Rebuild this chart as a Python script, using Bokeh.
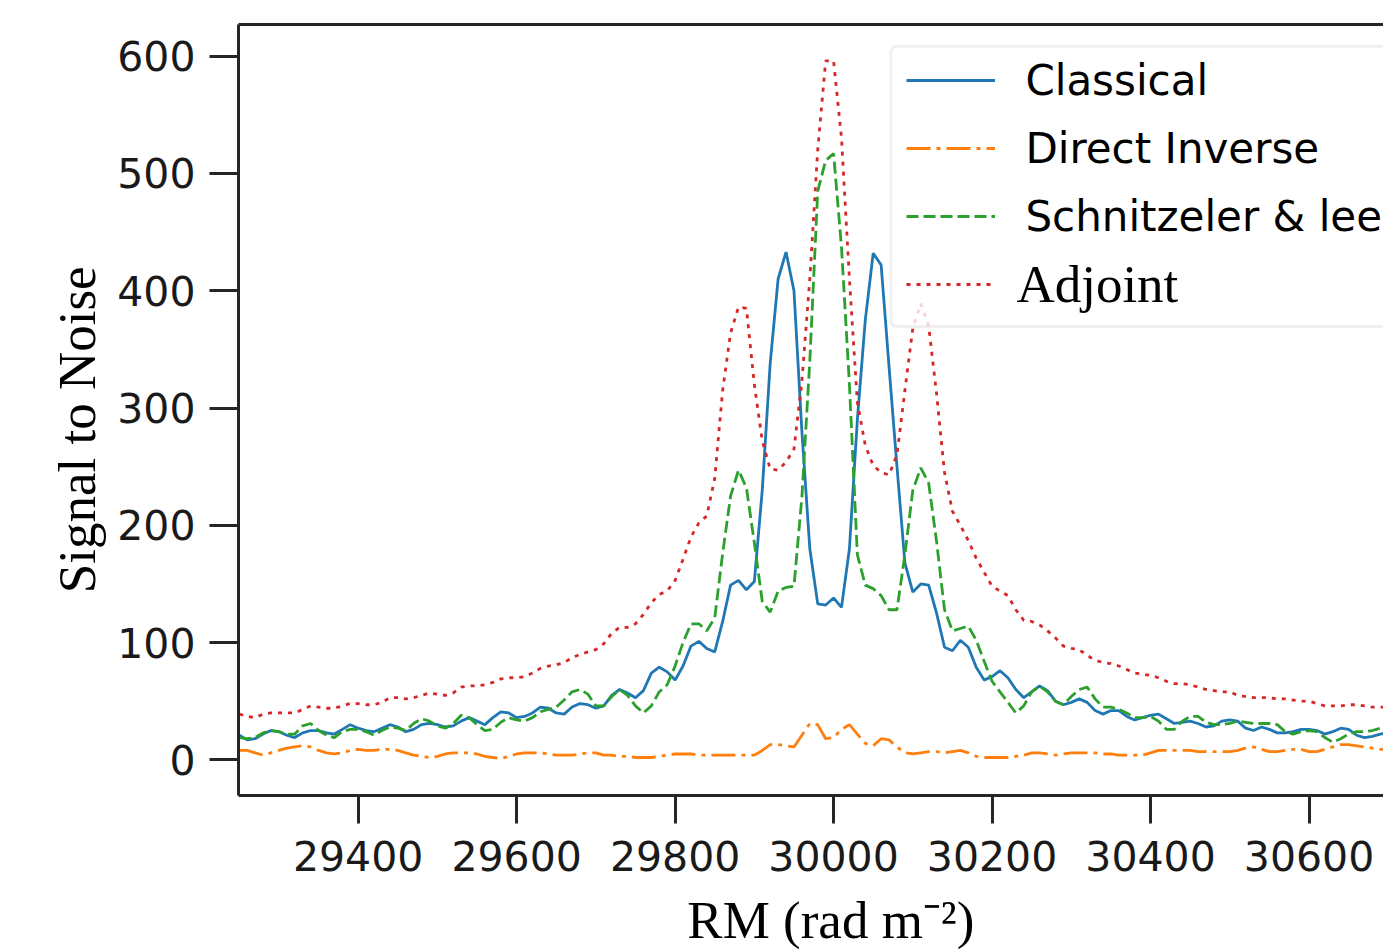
from bokeh.plotting import figure
from bokeh.models import (Range1d, FixedTicker, LinearAxis, Legend, LegendItem,
                          BoxAnnotation, BasicTickFormatter)
from bokeh.embed import file_html
from bokeh.resources import INLINE

# ---------------- data ----------------
RM_START = 29250
RM_STEP = 10

classical = [
    21, 17, 18, 22, 25, 24, 21, 19, 23, 25,
    25, 23, 22, 26, 30, 27, 25, 24, 27, 30,
    28, 24, 26, 30, 31, 30, 28, 29, 33, 36,
    33, 30, 36, 41, 40, 36, 37, 40, 45, 44,
    40, 39, 45, 48, 47, 44, 46, 55, 60, 57,
    53, 59, 74, 79, 75, 68, 80, 97, 101, 95,
    92, 118, 149, 153, 145, 152, 230, 338, 410, 433,
    400, 280, 180, 133, 132, 138, 130, 180, 290, 375,
    432, 422, 335, 250, 168, 143, 150, 149, 125, 96,
    93, 102, 96, 79, 68, 71, 76, 70, 60, 53,
    58, 63, 59, 50, 47, 49, 52, 49, 42, 39,
    42, 42, 37, 34, 36, 38, 39, 35, 31, 32,
    33, 31, 28, 29, 33, 34, 33, 27, 25, 28,
    26, 23, 23, 24, 26, 26, 25, 22, 24, 27,
    26, 21, 19, 20, 22, 23,
]

direct_inverse = [
    8, 8, 6, 4, 6, 8, 10, 11, 12, 11,
    8, 6, 5, 6, 8, 9, 8, 8, 9, 9,
    8, 6, 4, 3, 2, 3, 5, 6, 6, 6,
    5, 3, 2, 1, 3, 5, 6, 6, 6, 5,
    4, 4, 4, 5, 6, 6, 4, 4, 3, 3,
    2, 2, 2, 3, 4, 5, 5, 5, 4, 4,
    4, 4, 4, 4, 4, 4, 8, 13, 13, 12,
    11, 21, 31, 30, 18, 19, 26, 30, 22, 14,
    12, 18, 17, 11, 6, 5, 6, 7, 7, 6,
    7, 8, 6, 3, 2, 2, 2, 2, 3, 4,
    6, 6, 5, 4, 5, 6, 6, 6, 6, 5,
    5, 4, 4, 4, 4, 6, 8, 8, 8, 8,
    8, 7, 7, 7, 7, 7, 8, 10, 11, 9,
    7, 7, 8, 9, 9, 7, 7, 9, 11, 13,
    13, 12, 11, 10, 9, 9,
]

schnitzeler_lee = [
    19, 18, 19, 23, 25, 24, 22, 22, 29, 31,
    25, 21, 19, 24, 26, 26, 24, 21, 25, 28,
    27, 25, 31, 35, 33, 29, 27, 31, 38, 36,
    30, 25, 26, 32, 36, 34, 33, 36, 41, 43,
    45, 51, 58, 60, 56, 46, 46, 54, 60, 55,
    46, 40, 46, 58, 64, 80, 100, 116, 116, 110,
    121, 176, 225, 247, 232, 185, 135, 126, 144, 147,
    148, 224, 340, 485, 511, 517, 437, 320, 175, 149,
    146, 140, 128, 128, 175, 230, 249, 236, 186, 128,
    110, 112, 114, 102, 84, 67, 58, 49, 40, 46,
    58, 63, 58, 50, 47, 54, 60, 62, 52, 45,
    45, 43, 40, 36, 36, 37, 33, 26, 26, 33,
    37, 37, 32, 30, 30, 31, 33, 32, 31, 31,
    31, 30, 24, 22, 24, 25, 24, 19, 15, 18,
    22, 24, 24, 25, 27, 27,
]

adjoint = [
    39, 37, 36, 39, 40, 40, 40, 40, 43, 46,
    45, 44, 44, 46, 48, 48, 47, 47, 49, 53,
    53, 52, 53, 55, 57, 56, 55, 57, 62, 63,
    63, 64, 66, 69, 70, 70, 71, 74, 78, 80,
    81, 83, 87, 90, 92, 94, 99, 108, 113, 113,
    116, 124, 134, 141, 144, 153, 171, 190, 202, 208,
    240, 315, 364, 386, 385, 320, 272, 248, 247, 254,
    265, 323, 410, 520, 596, 596, 530, 410, 305, 268,
    251, 245, 243, 260, 315, 368, 389, 370, 312, 245,
    212, 200, 187, 172, 160, 148, 144, 140, 128, 119,
    118, 115, 110, 104, 97, 95, 94, 89, 85, 83,
    82, 80, 77, 74, 73, 72, 70, 67, 65, 65,
    64, 62, 60, 59, 58, 58, 55, 54, 53, 53,
    53, 52, 52, 51, 50, 50, 48, 46, 46, 46,
    47, 47, 46, 45, 45, 45,
]

rm = [RM_START + RM_STEP * i for i in range(len(classical))]

x_ticks = [29400, 29600, 29800, 30000, 30200, 30400, 30600]
y_ticks = [0, 100, 200, 300, 400, 500, 600]
series_labels = ["Classical", "Direct Inverse", "Schnitzeler & lee", "Adjoint"]
NBSP = "\u00a0"
x_title = NBSP * 3 + "RM (rad m\u207b\u00b2)"
y_title = "Signal to Noise" + NBSP * 3

# ---------------- figure ----------------
SPINE = "#262626"
TEXT = "#1a1a1a"

p = figure(width=1383, height=952, output_backend="svg", toolbar_location=None,
           x_range=Range1d(29249, 30694), y_range=Range1d(-30.4, 627),
           min_border_left=238, min_border_right=0, min_border_top=24,
           min_border_bottom=157, background_fill_color="white",
           border_fill_color="white")
p.outline_line_color = None
p.xgrid.visible = False
p.ygrid.visible = False

xa = p.xaxis[0]
xa.ticker = FixedTicker(ticks=x_ticks)
xa.formatter = BasicTickFormatter(use_scientific=False)
ya = p.yaxis[0]
ya.ticker = FixedTicker(ticks=y_ticks)
ya.formatter = BasicTickFormatter(use_scientific=False)

for ax, tick_len, standoff, title, title_standoff in (
        (xa, 28, 17, x_title, 17), (ya, 29, 14, y_title, 8)):
    ax.axis_line_color = SPINE
    ax.axis_line_width = 3
    ax.major_tick_line_color = SPINE
    ax.major_tick_line_width = 3
    ax.major_tick_out = tick_len
    ax.major_tick_in = 0
    ax.minor_tick_line_color = None
    ax.major_label_text_font = "DejaVu Sans"
    ax.major_label_text_font_size = "41px"
    ax.major_label_text_color = TEXT
    ax.major_label_standoff = standoff
    ax.axis_label = title
    ax.axis_label_text_font = "Liberation Serif"
    ax.axis_label_text_font_size = "53px"
    ax.axis_label_text_font_style = "normal"
    ax.axis_label_text_color = "#000000"
    ax.axis_label_standoff = title_standoff

top_axis = LinearAxis(ticker=FixedTicker(ticks=[]), axis_line_color=SPINE,
                      axis_line_width=3, major_tick_line_color=None,
                      minor_tick_line_color=None, major_tick_out=0,
                      major_label_standoff=0)
p.add_layout(top_axis, "above")

# ---------------- lines ----------------
r1 = p.line(rm, classical, line_color="#1f77b4", line_width=2.8)
r2 = p.line(rm, direct_inverse, line_color="#ff7f0e", line_width=2.8,
            line_dash="24 6 4 6")
r3 = p.line(rm, schnitzeler_lee, line_color="#2ca02c", line_width=2.8,
            line_dash="12 5")
r4 = p.line(rm, adjoint, line_color="#d62728", line_width=2.8,
            line_dash="4 6")

# ---------------- legend ----------------
box = BoxAnnotation(left=652.4, right=1500, top=749.3, bottom=469,
                    left_units="screen", right_units="screen",
                    top_units="screen", bottom_units="screen",
                    fill_color="white", fill_alpha=0.8,
                    line_color="#cccccc", line_width=3, border_radius=6)
p.add_layout(box)

leg_a = Legend(items=[LegendItem(label=series_labels[0], renderers=[r1]),
                      LegendItem(label=series_labels[1], renderers=[r2]),
                      LegendItem(label=series_labels[2], renderers=[r3])],
               location=(668.4, 548), orientation="vertical",
               padding=0, margin=0, spacing=6, glyph_width=89,
               glyph_height=62, label_height=62, label_standoff=30,
               label_text_font="DejaVu Sans", label_text_font_size="42px",
               label_text_color="#000000", border_line_color=None,
               background_fill_alpha=0)
leg_b = Legend(items=[LegendItem(label=series_labels[3], renderers=[r4])],
               location=(668.4, 480.3), orientation="vertical",
               padding=0, margin=0, spacing=0, glyph_width=89,
               glyph_height=62, label_height=62, label_standoff=21,
               label_text_font="Liberation Serif", label_text_font_size="53px",
               label_text_color="#000000", border_line_color=None,
               background_fill_alpha=0)
p.add_layout(leg_a)
p.add_layout(leg_b)

open("out.html", "w").write(file_html(p, INLINE))
